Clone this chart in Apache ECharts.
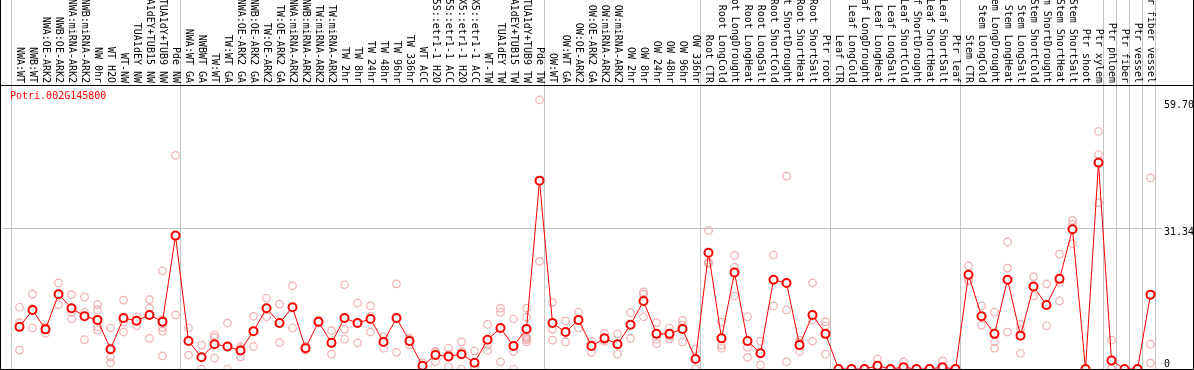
<!DOCTYPE html>
<html><head><meta charset="utf-8">
<script src="https://cdn.jsdelivr.net/npm/echarts@6/dist/echarts.min.js"></script>
<style>html,body{margin:0;padding:0;background:#fff}#c{width:1194px;height:370px}</style>
</head><body><div id="c"></div>
<script>
const chartTitle = 'Potri.002G145800';
const categories = [
  'NWA:WT','NWB:WT','NWA:OE-ARK2','NWB:OE-ARK2','NWA:miRNA-ARK2','NWB:miRNA-ARK2','NW 0hr','WT H2O','WT-NW','TUA1dEY NW','TUA1dEY+TUB15 NW','TUA1dY+TUB9 NW','Pde NW',
  'NWA:WT GA','NWBWT GA','TW:WT','TW:WT GA','NWA:OE-ARK2 GA','NWB:OE-ARK2 GA','TW:OE-ARK2','TW:OE-ARK2 GA','NWA:miRNA-ARK2','NWB:miRNA-ARK2','TW:miRNA-ARK2','TW:miRNA-ARK2',
  'TW 2hr','TW 8hr','TW 24hr','TW 48hr','TW 96hr','TW 336hr','WT ACC','35S::etr1-1 H2O','35S::etr1-1 ACC','LMX5::etr1-1 H2O','LMX5::etr1-1 ACC','WT-TW','TUA1dEY TW','TUA1dEY+TUB15 TW','TUA1dY+TUB9 TW','Pde TW',
  'OW:WT','OW:WT GA','OW:OE-ARK2','OW:OE-ARK2 GA','OW:miRNA-ARK2','OW:miRNA-ARK2','OW 2hr','OW 8hr','OW 24hr','OW 48hr','OW 96hr','OW 336hr',
  'Root CTR','Root LongCold','Root LongDrought','Root LongHeat','Root LongSalt','Root ShortCold','Root ShortDrought','Root ShortHeat','Root ShortSalt','Ptr root',
  'Leaf CTR','Leaf LongCold','Leaf LongDrought','Leaf LongHeat','Leaf LongSalt','Leaf ShortCold','Leaf ShortDrought','Leaf ShortHeat','Leaf ShortSalt','Ptr leaf',
  'Stem CTR','Stem LongCold','Stem LongDrought','Stem LongHeat','Stem LongSalt','Stem ShortCold','Stem ShortDrought','Stem ShortHeat','Stem ShortSalt','Ptr shoot','Ptr xylem',
  'Ptr phloem','Ptr fiber','Ptr vessel','Ptr fiber vessel'
];
const means = [
  9.35,13.1,8.8,16.6,13.5,11.7,10.9,4.4,11.3,10.7,12.0,10.5,29.6,
  6.2,2.6,5.5,5.0,4.1,8.4,13.5,10.2,13.7,4.6,10.5,5.8,11.3,10.2,11.1,6.0,11.3,6.2,0.7,3.1,2.8,3.3,1.4,6.5,9.1,5.1,8.9,41.8,
  10.2,8.2,10.9,5.1,6.8,5.5,9.8,15.1,7.8,7.8,8.9,2.2,
  25.8,6.8,21.4,6.2,3.5,19.8,19.1,5.3,12.0,7.8,
  0,0,0,0.7,0,0.4,0,0,0.4,0,
  20.9,11.7,7.8,19.8,7.4,18.3,14.2,20.0,31.0,0,45.8,
  1.9,0,0,16.5
];
const replicates = [
  [13.7,10.3,4.2],[16.6,13.4,9.1],[9.4,9.1,7.9],[19.1,16.5,14.3],[16.5,12.6,11.1],[16.0,12.6,6.5],[14.3,13.1,9.4,8.6],[9.1,2.6,1.4],[15.3,10.4,8.2],[11.6,10.9,9.6],[15.4,13.5,6.8],[21.8,11.0,10.3,9.2,8.4,2.9],[47.4,12.0],
  [9.1,3.1],[5.3,0],[7.6,7.0,2.4],[10.2,0],[5.0,4.5,2.7],[11.7,5.0],[15.7,11.6],[14.4,5.9],[18.5,9.1],[5.0,4.6,4.2],[10.9,10.5,10.2],[8.5,3.3],
  [18.7,8.8,6.6],[14.6,5.8],[14.0,11.7,8.2],[7.2,6.2,4.6],[18.9,3.7],[6.8,6.5,5.3],[1.4,0.7,0],[3.9,3.7,1.6],[4.6,3.2,0.5],[6.0,3.9,0],[4.0,0.5,0],[9.9,5.3,4.1],[13.5,12.6,1.6],[11.1,3.9,0],[13.5,11.5,7.2,6.8,6.5,6.0],[59.7,23.9],
  [14.8,8.8,6.4],[10.7,6.0],[12.6,9.1],[6.2,5.4,3.7],[7.9,6.5,6.1],[7.8,3.3],[12.5,6.8],[17.1,16.6,11.6],[10.3,6.6,5.6],[9.1,7.3,6.7],[10.8,9.8,6.0],[4.4,0],
  [30.7,23.7,23.4],[10.4,5.3,4.6],[25.2,22.6,16.2],[11.6,4.8,2.6],[6.2,0.9],[25.3,14.0],[42.8,13.1,1.6],[6.4,5.9,3.9],[19.1,10.9,6.2],[10.5,9.6,3.3],
  [0,0,0],[0,0,0],[0,0,0],[2.2,0,0],[0,0,0],[1.6,0,0],[0,0,0],[0,0,0],[1.8,0,0],[0,0,0],
  [22.9,19.8,19.5],[14.0,11.5,9.7],[12.6,6.0,4.6],[28.2,22.4,8.2],[9.9,8.8,3.5],[20.5,16.2],[18.9,9.6],[25.5,19.2,15.1],[33.0,32.1,27.8],[0,0],[52.7,47.6,36.9],
  [6.4,0,0],[0,0],[0,0],[42.4,5.5,1.3]
];
const yTickLabels = [0, 31.34, 59.70];
const groupStarts = [0, 13, 41, 53, 63, 73, 84, 85, 86, 87];
const yMax = 62.8;

const FONT = 'DejaVu Sans Mono';
const GRAY = '#c4c4c4';
const repData = [];
replicates.forEach((arr, i) => arr.forEach(v => repData.push([i, v])));

const chart = echarts.init(document.getElementById('c'), null, {renderer: 'canvas'});
chart.setOption({
  animation: false,
  backgroundColor: '#fff',
  title: {
    text: chartTitle, left: 10, top: 91, padding: 0,
    textStyle: {color: '#ff0000', fontFamily: FONT, fontSize: 10, fontWeight: 'normal'}
  },
  grid: [
    {left: 13, width: 1144, top: 86, height: 283, containLabel: false, outerBoundsMode: 'none'},
    {left: 11, width: 1144, top: 0, height: 369, containLabel: false, outerBoundsMode: 'none'},
    {left: 2, width: 1160, top: 86, height: 283, containLabel: false, outerBoundsMode: 'none'}
  ],
  xAxis: [
    {
      type: 'category', gridIndex: 0, position: 'top', data: categories, boundaryGap: true,
      axisLine: {show: false, onZero: false}, axisTick: {show: false}, splitLine: {show: false},
      axisLabel: {show: true, interval: 0, rotate: 90, margin: 3, hideOverlap: false,
        fontFamily: FONT, fontSize: 10, color: '#000'}
    },
    {
      type: 'category', gridIndex: 1, data: categories, boundaryGap: true,
      axisLine: {show: false, onZero: false}, axisTick: {show: false}, axisLabel: {show: false},
      splitLine: {show: true, interval: (idx) => groupStarts.indexOf(idx) >= 0, lineStyle: {color: GRAY, width: 1}}
    },
    {type: 'value', gridIndex: 2, show: false, min: 0, max: 1}
  ],
  yAxis: [
    {type: 'value', gridIndex: 0, min: 0, max: yMax, show: false},
    {type: 'value', gridIndex: 1, min: 0, max: 1, show: false},
    {
      type: 'value', gridIndex: 2, position: 'right', min: 0, max: yMax,
      axisLine: {show: false}, axisTick: {show: false, customValues: [yTickLabels[1]]},
      splitLine: {show: true, lineStyle: {color: GRAY, width: 1}},
      axisLabel: {customValues: yTickLabels.filter(v => v > 0), verticalAlign: 'top', margin: 2,
        formatter: v => Number(v).toFixed(2), fontFamily: FONT, fontSize: 10, color: '#000'}
    },
    {
      type: 'value', gridIndex: 2, position: 'right', min: 0, max: yMax,
      axisLine: {show: false}, axisTick: {show: false}, splitLine: {show: false},
      axisLabel: {customValues: [yTickLabels[0]], verticalAlign: 'bottom', margin: 2,
        formatter: v => String(v), fontFamily: FONT, fontSize: 10, color: '#000'}
    }
  ],
  series: [
    {
      type: 'scatter', xAxisIndex: 0, yAxisIndex: 0, data: repData,
      symbol: 'circle', symbolSize: 7.5, z: 2,
      itemStyle: {color: 'rgba(0,0,0,0)', borderColor: '#ec9a9a', borderWidth: 1.2}
    },
    {
      type: 'line', xAxisIndex: 0, yAxisIndex: 0, data: means,
      symbol: 'emptyCircle', symbolSize: 8, showAllSymbol: true, z: 3,
      itemStyle: {color: '#ff0000', borderWidth: 1.6},
      lineStyle: {color: '#ff0000', width: 1}
    }
  ],
  graphic: [
    {type: 'polyline', silent: true, z: 100,
      shape: {points: [[0.5, 0], [0.5, 369.5], [1193.5, 369.5], [1193.5, 0]]},
      style: {fill: null, stroke: '#000', lineWidth: 1}},
    {type: 'line', silent: true, z: 100,
      shape: {x1: 0, y1: 85.5, x2: 1194, y2: 85.5},
      style: {stroke: '#000', lineWidth: 1}}
  ]
});
</script>
</body></html>
